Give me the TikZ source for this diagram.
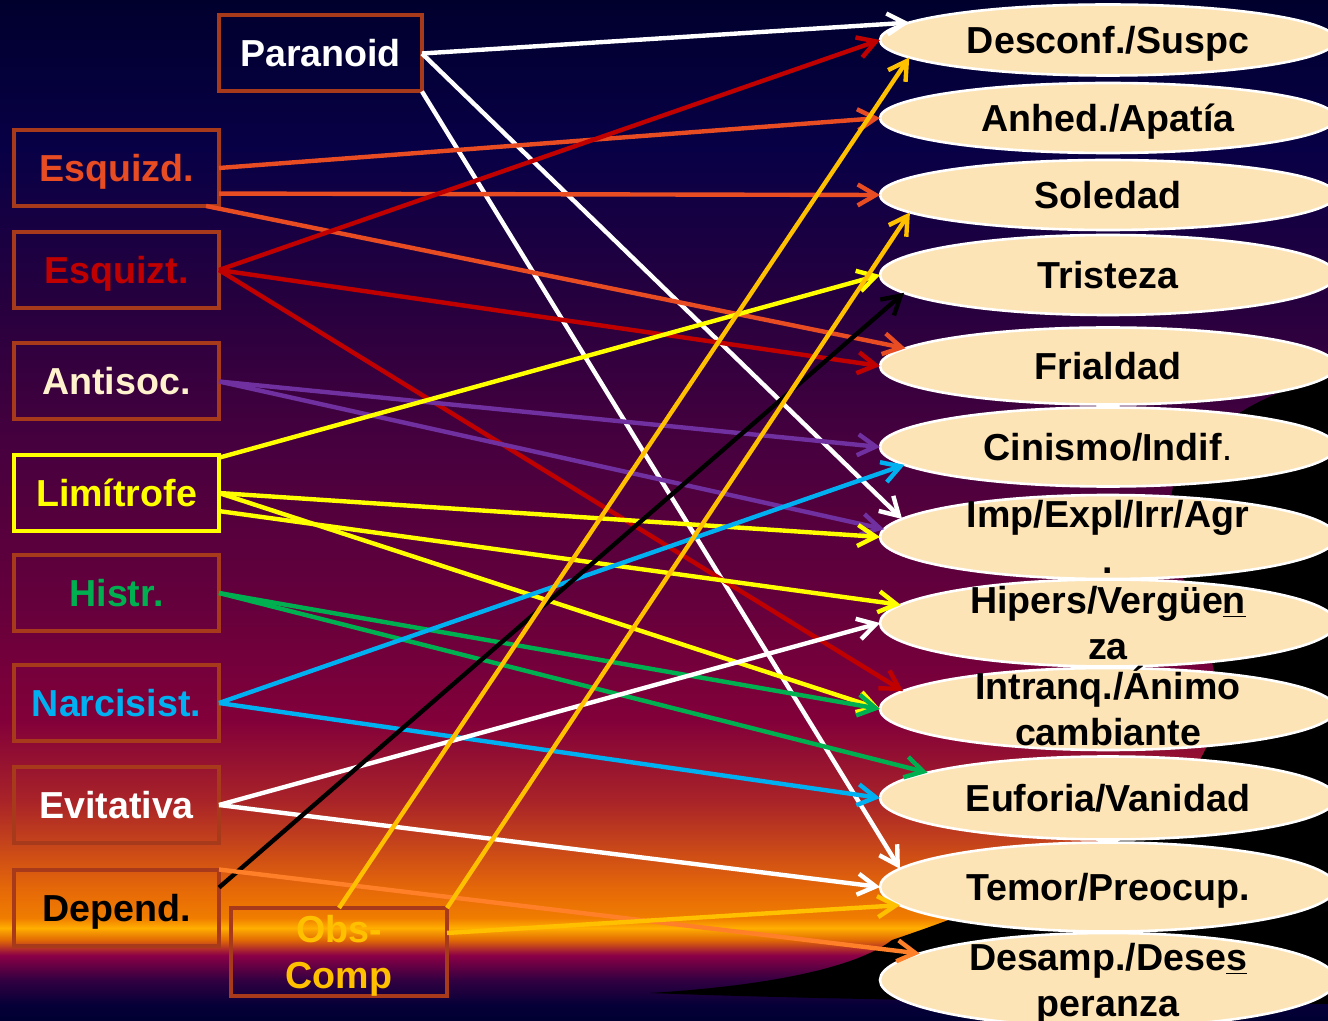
\documentclass[tikz,border=0pt]{standalone}
\usepackage{fontspec}
\setmainfont{Liberation Sans}
\usetikzlibrary{shapes.geometric,arrows.meta}

\definecolor{boxred}{RGB}{168,58,28}
\definecolor{esqcol}{RGB}{232,76,34}
\definecolor{redcol}{RGB}{192,0,0}
\definecolor{purp}{RGB}{112,48,160}
\definecolor{yel}{RGB}{255,255,0}
\definecolor{grn}{RGB}{0,176,80}
\definecolor{cyn}{RGB}{0,176,240}
\definecolor{gold}{RGB}{255,192,0}
\definecolor{lorange}{RGB}{255,128,40}
\definecolor{peach}{RGB}{253,228,183}
\definecolor{cream}{RGB}{255,242,204}

\pgfdeclareverticalshading{sunset}{100bp}{%
  rgb(0bp)=(0,0,0.196); rgb(25bp)=(0,0,0.196); rgb(25.78bp)=(0.02,0,0.216);
  rgb(27.01bp)=(0.196,0,0.255); rgb(28.23bp)=(0.549,0,0.275);
  rgb(28.97bp)=(0.882,0.412,0.02); rgb(29.56bp)=(1,0.686,0);
  rgb(30.05bp)=(0.941,0.49,0); rgb(31.42bp)=(0.902,0.412,0.031);
  rgb(33.87bp)=(0.765,0.255,0.11); rgb(35.82bp)=(0.659,0.137,0.157);
  rgb(39.74bp)=(0.51,0,0.227); rgb(45.62bp)=(0.392,0,0.235);
  rgb(52.96bp)=(0.282,0,0.243); rgb(60.31bp)=(0.149,0,0.243);
  rgb(67.65bp)=(0.031,0,0.275); rgb(75bp)=(0,0,0.176); rgb(100bp)=(0,0,0.176)}

\tikzset{
  pers/.style={draw=boxred,line width=2pt,minimum width=102.5pt,minimum height=38pt,
    inner sep=0pt,outer sep=0pt,align=center,text height=13.5pt,text depth=0pt,
    font=\bfseries\fontsize{18.8}{23}\selectfont},
  mood/.style={ellipse,draw=white,line width=1.3pt,fill=peach,minimum width=228pt,
    inner sep=0pt,outer sep=0pt},
  moodtxt/.style={align=center,text=black,inner sep=0pt,text height=13.5pt,text depth=0pt,
    font=\bfseries\fontsize{18.8}{23}\selectfont},
  twoline/.style={text height=36.5pt},
  lnk/.style={->,line width=2.2pt}
}

\begin{document}
\begin{tikzpicture}[x=0.5pt,y=-0.5pt,>={Straight Barb[length=9pt,width=10.5pt]}]
  \useasboundingbox (0,0) rectangle (1328,1021);
  \clip (0,0) rectangle (1328,1021);
  \shade[shading=sunset] (0,0) rectangle (1328,1021);

  \fill[black] (1328,378) .. controls (1260,392) and (1200,430) .. (1175,480)
    .. controls (1150,560) and (1230,640) .. (1215,720)
    .. controls (1200,800) and (1100,870) .. (892,940)
    .. controls (860,965) and (780,985) .. (650,993)
    .. controls (800,999) and (1100,1004) .. (1328,1004) -- cycle;

  \node[pers,text=white,minimum width=101.5pt] (par) at (320.5,53.5) {Paranoid};
  \node[pers,text=esqcol] (esqd) at (116.5,168) {Esquizd.};
  \node[pers,text=redcol] (esqt) at (116.5,270) {Esquizt.};
  \node[pers,text=cream] (anti) at (116.5,381.5) {Antisoc.};
  \node[pers,draw=yel,text=yel] (limi) at (116.5,493) {Limítrofe};
  \node[pers,text=grn] (histr) at (116.5,593) {Histr.};
  \node[pers,text=cyn] (narc) at (116.5,703) {Narcisist.};
  \node[pers,text=white] (evit) at (116.5,805) {Evitativa};
  \node[pers,text=black] (dep) at (116.5,907.5) {Depend.};
  \node[pers,twoline,text=gold,minimum width=108pt,minimum height=44pt] (obs) at (339,952) {Obs-\\Comp};

  \node[mood,minimum height=35.5pt,label={[moodtxt]center:Desconf./Suspc}] (desc) at (1108,40) {};
  \node[mood,minimum height=35pt,label={[moodtxt]center:Anhed./Apatía}] (anhed) at (1108,118) {};
  \node[mood,minimum height=35pt,label={[moodtxt]center:Soledad}] (sol) at (1108,195) {};
  \node[mood,minimum height=40pt,label={[moodtxt]center:Tristeza}] (trist) at (1108,275) {};
  \node[mood,minimum height=38.5pt,label={[moodtxt]center:Frialdad}] (frial) at (1108,366) {};
  \node[mood,minimum height=39.5pt,label={[moodtxt]center:Cinismo/Indif{\mdseries.}}] (cin) at (1108,447) {};
  \node[mood,minimum height=42pt,label={[moodtxt,twoline]center:{Imp/Expl/Irr/Agr\\.}}] (imp) at (1108,537) {};
  \node[mood,minimum height=43.5pt,label={[moodtxt,twoline]center:{Hipers/Vergüe\underline{n}\\za}}] (hip) at (1108,623) {};
  \node[mood,minimum height=41pt,label={[moodtxt,twoline]center:{Intranq./Ánimo\\cambiante}}] (intr) at (1108,709) {};
  \node[mood,minimum height=41.5pt,label={[moodtxt]center:Euforia/Vanidad}] (eufo) at (1108,798) {};
  \node[mood,minimum height=44.5pt,label={[moodtxt]center:Temor/Preocup.}] (temor) at (1108,887) {};
  \node[mood,minimum height=47pt,label={[moodtxt,twoline]center:{Desamp./Dese\underline{s}\\peranza}}] (desamp) at (1108,980) {};

  \foreach \t in {desc.175,imp.175} \draw[lnk,white] (par.east) -- (\t);
  \draw[lnk,white] (par.south east) -- (temor.175);

  \draw[lnk,esqcol] (esqd.east) -- (anhed.west);
  \draw[lnk,esqcol] (esqd.-14) -- (sol.west);
  \draw[lnk,esqcol] (esqd.-23) -- (frial.175);

  \foreach \t in {desc.west,frial.west,intr.175} \draw[lnk,redcol] (esqt.east) -- (\t);

  \foreach \t in {cin.west,imp.178} \draw[lnk,purp] (anti.east) -- (\t);

  \draw[lnk,yel] (limi.19) -- (trist.west);
  \draw[lnk,yel] (limi.east) -- (imp.west);
  \draw[lnk,yel] (limi.-10) -- (hip.175);
  \draw[lnk,yel] (limi.east) -- (intr.west);

  \foreach \t in {intr.west,eufo.172} \draw[lnk,grn] (histr.east) -- (\t);

  \foreach \t in {cin.185,eufo.west} \draw[lnk,cyn] (narc.east) -- (\t);

  \foreach \t in {hip.west,temor.west} \draw[lnk,white] (evit.east) -- (\t);

  \draw[lnk,black] (dep.11) -- (trist.185);
  \draw[lnk,lorange] (dep.north east) -- (desamp.172);

  \draw[lnk,gold] (obs.north) -- (desc.185);
  \draw[lnk,gold] (obs.north east) -- (sol.185);
  \draw[lnk,gold] (obs.10) -- (temor.185);
\end{tikzpicture}
\end{document}
